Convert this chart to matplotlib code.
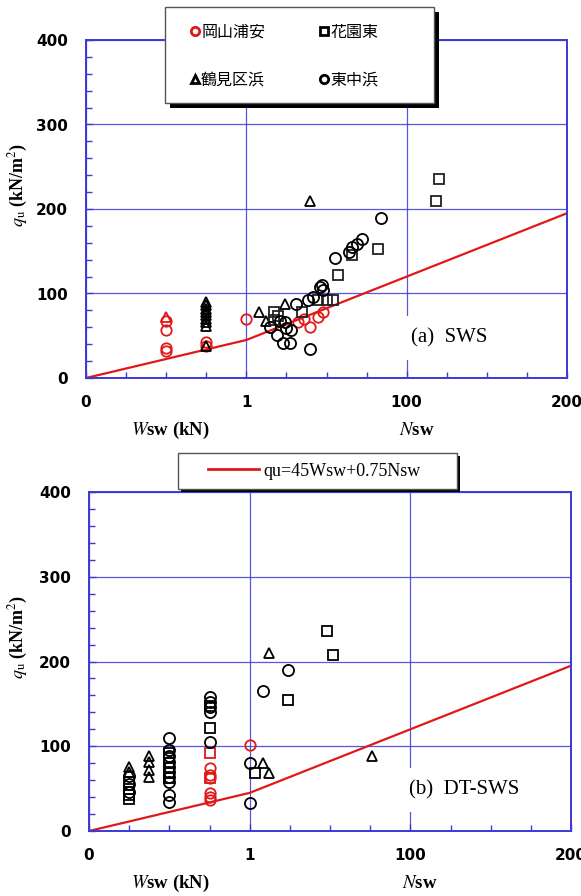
import numpy as np
import matplotlib.pyplot as plt
from matplotlib.lines import Line2D
from matplotlib.patches import Rectangle

plt.rcParams['mathtext.fontset'] = 'stix'

# x axis is split: Wsw (kN) 0-1 on the first third, Nsw 0-200 on the rest
# ---- panel (a) SWS ----
a_red_c_wsw = [0.5, 0.5, 0.5, 0.5, 0.75, 0.75, 1.0]
a_red_c_wsw_q = [67, 57, 35, 32, 43, 38, 70]
a_red_c_nsw = [32.5, 39.7, 45, 48, 36]
a_red_c_nsw_q = [66, 60, 72, 78, 70]
a_red_t_wsw = [0.5]
a_red_t_wsw_q = [72]

a_tri_wsw = [0.75, 0.75, 0.75, 0.75, 0.75, 0.75, 0.75, 0.75, 0.75]
a_tri_wsw_q = [90, 86, 82, 78, 74, 70, 66, 62, 38]
a_tri_nsw = [8, 12, 24, 40]
a_tri_nsw_q = [78, 68, 88, 210]

a_sq_nsw = [17, 17, 20, 34.5, 45, 50, 54, 57, 66, 82, 118, 120]
a_sq_nsw_q = [78, 69, 73, 78, 92, 92, 92, 122, 146, 153, 209, 236]

a_circ_nsw = [15, 19, 21, 23, 24, 25, 27, 28, 31, 38.7, 39.7, 41.8, 46, 47, 48,
              55, 64, 66, 69, 72, 84]
a_circ_nsw_q = [60, 51, 68, 41, 66, 59, 41, 57, 88, 92, 34, 96, 108, 110, 104,
                142, 149, 155, 159, 165, 189]

# ---- panel (b) DT-SWS ----
b_red_c_wsw = [0.75, 0.75, 0.75, 0.75, 0.75, 0.75, 1.0]
b_red_c_wsw_q = [74, 66, 62, 45, 40, 37, 101]
b_red_s_wsw = [0.75, 0.75]
b_red_s_wsw_q = [92, 62]

b_tri_wsw = [0.25, 0.25, 0.375, 0.375, 0.375, 0.375]
b_tri_wsw_q = [75, 70, 88, 82, 72, 64]
b_tri_nsw = [8, 12, 12, 76]
b_tri_nsw_q = [80, 68, 210, 88]

b_sq_wsw = [0.25, 0.25, 0.25, 0.25, 0.5, 0.5, 0.5, 0.5, 0.5, 0.5, 0.75, 0.75]
b_sq_wsw_q = [58, 50, 42, 38, 92, 86, 80, 74, 68, 62, 148, 121]
b_sq_nsw = [3.3, 24, 48, 52]
b_sq_nsw_q = [68, 154, 236, 208]

b_circ_wsw = [0.25, 0.25, 0.25, 0.5, 0.5, 0.5, 0.5, 0.5, 0.5, 0.5, 0.5, 0.5, 0.5,
              0.75, 0.75, 0.75, 0.75, 0.75, 1.0, 1.0]
b_circ_wsw_q = [65, 55, 46, 110, 96, 88, 82, 76, 70, 64, 58, 42, 34,
                158, 152, 146, 140, 105, 80, 33]
b_circ_nsw = [8, 24]
b_circ_nsw_q = [165, 190]

# qu = 45 Wsw + 0.75 Nsw
line_wsw = [0, 1]
line_nsw = [0, 200]

xticks = [0, 1, 2, 3]
xticklabels = ['0', '1', '100', '200']
site_labels = ['岡山浦安', '鶴見区浜', '花園東', '東中浜']

BLUE = '#3a3ad6'
RED = '#e01818'
W, H = 581, 896


def to_x(wsw=(), nsw=()):
    return [float(w) for w in wsw] + [1 + n / 100.0 for n in nsw]


def pts(ax, marker, color, ms, wsw=(), wq=(), nsw=(), nq=()):
    x = to_x(wsw, nsw)
    y = list(wq) + list(nq)
    ax.plot(x, y, ls='none', marker=marker, mfc='none', mec=color, ms=ms, mew=1.3,
            zorder=3)


def setup(ax):
    ax.set_xlim(0, 3)
    ax.set_ylim(0, 400)
    ax.set_xticks(xticks)
    ax.set_xticklabels(xticklabels)
    ax.set_xticks(np.arange(0, 3.01, 0.25), minor=True)
    ax.set_yticks([0, 100, 200, 300, 400])
    ax.set_yticks(np.arange(0, 401, 20), minor=True)
    ax.tick_params(which='both', direction='in', color=BLUE, top=False, right=False)
    ax.tick_params(which='major', length=5, width=1)
    ax.tick_params(axis='x', which='major', pad=12)
    ax.tick_params(axis='y', which='major', pad=13)
    ax.tick_params(which='minor', length=4, width=1)
    for lab in ax.get_xticklabels() + ax.get_yticklabels():
        lab.set_fontfamily('DejaVu Sans')
        lab.set_fontweight('bold')
        lab.set_fontsize(11)
    ax.grid(True, which='major', color=BLUE, lw=0.9, alpha=0.85)
    for s in ax.spines.values():
        s.set_color(BLUE)
        s.set_linewidth(1.4)


def qline(ax):
    wq = [45 * w for w in line_wsw]
    nq = [45 + 0.75 * n for n in line_nsw]
    ax.plot(to_x([line_wsw[0]], []) + to_x([line_wsw[1]], line_nsw[1:]),
            [wq[0], wq[1], nq[1]], color=RED, lw=1.6, zorder=2)


def px(x, y):
    return x / W, 1 - y / H


def frame(x0, y0, x1, y1, sh):
    # white box with black drop shadow, in pixel coords
    fig.add_artist(Rectangle(px(x0 + sh, y1 + sh), (x1 - x0) / W, (y1 - y0) / H,
                             transform=fig.transFigure, fc='black', ec='none', zorder=5))
    fig.add_artist(Rectangle(px(x0, y1), (x1 - x0) / W, (y1 - y0) / H,
                             transform=fig.transFigure, fc='white', ec='#555555',
                             lw=1, zorder=6))


fig = plt.figure(figsize=(5.81, 8.96), dpi=100)
ax1 = fig.add_axes([86 / W, 1 - 378 / H, (567 - 86) / W, (378 - 40) / H])
ax2 = fig.add_axes([89 / W, 1 - 831 / H, (571 - 89) / W, (831 - 492) / H])

# panel (a)
setup(ax1)
qline(ax1)
pts(ax1, 'o', RED, 7.5, a_red_c_wsw, a_red_c_wsw_q, a_red_c_nsw, a_red_c_nsw_q)
pts(ax1, '^', RED, 7, a_red_t_wsw, a_red_t_wsw_q)
pts(ax1, '^', 'black', 7, a_tri_wsw, a_tri_wsw_q, a_tri_nsw, a_tri_nsw_q)
pts(ax1, 's', '#222222', 6.5, [], [], a_sq_nsw, a_sq_nsw_q)
pts(ax1, 'o', 'black', 8, [], [], a_circ_nsw, a_circ_nsw_q)
ax1.text(2.03, 47, '(a)  SWS', family='Liberation Serif', fontsize=15,
         ha='left', va='center', zorder=4,
         bbox=dict(boxstyle='square,pad=0.6', fc='white', ec='none'))

handles = [Line2D([], [], ls='none', marker='o', mfc='none', mec=RED, ms=6, mew=2),
           Line2D([], [], ls='none', marker='^', mfc='none', mec='black', ms=6, mew=2),
           Line2D([], [], ls='none', marker='s', mfc='none', mec='black', ms=6, mew=2),
           Line2D([], [], ls='none', marker='o', mfc='none', mec='black', ms=6, mew=2)]
frame(165, 7, 434, 103, 5)
leg1 = fig.legend(handles, site_labels, loc='center left', bbox_to_anchor=px(190, 56),
                  ncol=2, prop={'family': 'Noto Sans CJK JP', 'size': 11.5},
                  handlelength=0.6, handletextpad=0.1, columnspacing=3.4,
                  labelspacing=1.9, borderpad=0, borderaxespad=0, frameon=False)
leg1.set_zorder(10)

# panel (b)
setup(ax2)
qline(ax2)
pts(ax2, 'o', RED, 7.5, b_red_c_wsw, b_red_c_wsw_q)
pts(ax2, 's', RED, 6.5, b_red_s_wsw, b_red_s_wsw_q)
pts(ax2, '^', 'black', 7, b_tri_wsw, b_tri_wsw_q, b_tri_nsw, b_tri_nsw_q)
pts(ax2, 's', 'black', 6.5, b_sq_wsw, b_sq_wsw_q, b_sq_nsw, b_sq_nsw_q)
pts(ax2, 'o', 'black', 8, b_circ_wsw, b_circ_wsw_q, b_circ_nsw, b_circ_nsw_q)
ax2.text(1.99, 48, '(b)  DT-SWS', family='Liberation Serif', fontsize=15,
         ha='left', va='center', zorder=4,
         bbox=dict(boxstyle='square,pad=0.6', fc='white', ec='none'))

frame(178, 453, 457, 489, 3)
leg2 = fig.legend([Line2D([], [], color=RED, lw=2)], ['qu=45Wsw+0.75Nsw'],
                  loc='center left', bbox_to_anchor=px(208, 471),
                  prop={'family': 'Liberation Serif', 'size': 13},
                  handlelength=2.8, handletextpad=0.25, borderpad=0,
                  borderaxespad=0, frameon=False)
leg2.set_zorder(10)

# axis labels
for yl in (185, 637):
    fig.text(*px(18, yl), r'$q_{\rm u}$ (kN/m$^2$)', rotation=90, ha='center',
             va='center', family='Liberation Serif', fontweight='bold', fontsize=13)
for yl in (430, 883):
    fig.text(*px(170, yl), r'$W$sw (kN)', ha='center', va='center',
             family='Liberation Serif', fontweight='bold', fontsize=13.5)
fig.text(*px(417, 430), r'$N$sw', ha='center', va='center',
         family='Liberation Serif', fontweight='bold', fontsize=13.5)
fig.text(*px(420, 883), r'$N$sw', ha='center', va='center',
         family='Liberation Serif', fontweight='bold', fontsize=13.5)

fig.savefig('out.png', dpi=100)
